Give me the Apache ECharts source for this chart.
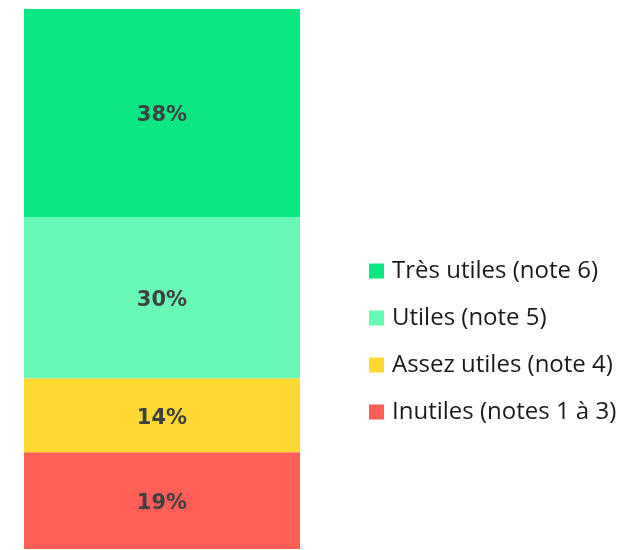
<!DOCTYPE html>
<html><head><meta charset="utf-8">
<script src="https://cdn.jsdelivr.net/npm/echarts@6/dist/echarts.min.js"></script>
<style>html,body{margin:0;padding:0;background:#fff}#c{width:624px;height:550px}</style>
</head><body><div id="c"></div>
<script>
const categories = ['Utilité'];
const seriesNames = ['Inutiles (notes 1 à 3)', 'Assez utiles (note 4)', 'Utiles (note 5)', 'Très utiles (note 6)'];
const barValues = [17.9, 13.7, 29.9, 38.5];
const labelTexts = ['19%', '14%', '30%', '38%'];
const colors = ['#FF5E57', '#FFD932', '#67F9B5', '#0BE881'];
const legendOrder = ['Très utiles (note 6)', 'Utiles (note 5)', 'Assez utiles (note 4)', 'Inutiles (notes 1 à 3)'];

const chart = echarts.init(document.getElementById('c'));
chart.setOption({
  animation: false,
  grid: {left: 24, top: 9, width: 276, bottom: 1},
  xAxis: {type: 'category', data: categories, show: false},
  yAxis: {type: 'value', min: 0, max: 100, show: false},
  legend: {
    data: legendOrder, orient: 'vertical', left: 369, top: 259,
    itemWidth: 15, itemHeight: 15, itemGap: 23, icon: 'rect', padding: 0,
    textStyle: {fontFamily: 'Open Sans', fontSize: 24, lineHeight: 24, color: '#1a1a1a', padding: [0, 0, 0, 3]}
  },
  series: seriesNames.map((n, i) => ({
    name: n, type: 'bar', stack: 'a', barWidth: '100%',
    data: [barValues[i]],
    itemStyle: {color: colors[i]},
    label: {show: true, position: 'inside', formatter: () => labelTexts[i], offset: [0, 3],
      fontFamily: 'DejaVu Sans', fontWeight: 'bold', fontSize: 21, color: '#404040'}
  }))
});
</script></body></html>
